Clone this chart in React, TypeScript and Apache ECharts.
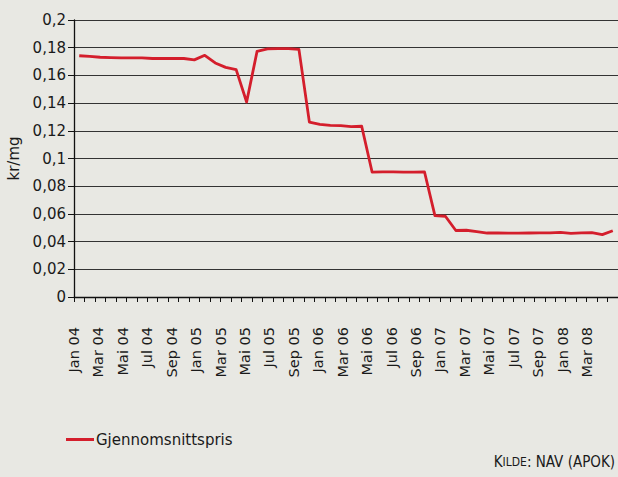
import React, { useEffect, useRef } from 'react';
import * as echarts from 'echarts';

const monthNames = ['Jan', 'Feb', 'Mar', 'Apr', 'Mai', 'Jun', 'Jul', 'Aug', 'Sep', 'Okt', 'Nov', 'Des'];
const yearSuffixes = ['04', '05', '06', '07', '08'];

const tickLabels = [
  'Jan 04', 'Mar 04', 'Mai 04', 'Jul 04', 'Sep 04',
  'Jan 05', 'Mar 05', 'Mai 05', 'Jul 05', 'Sep 05',
  'Jan 06', 'Mar 06', 'Mai 06', 'Jul 06', 'Sep 06',
  'Jan 07', 'Mar 07', 'Mai 07', 'Jul 07', 'Sep 07',
  'Jan 08', 'Mar 08',
];

// Monthly average price, kr/mg, Jan 2004 – Apr 2008
const prices = [
  0.1742, 0.1737, 0.1731, 0.1728, 0.1726, 0.1726, 0.1727, 0.1722, 0.1722, 0.1723, 0.1722, 0.1712,
  0.1745, 0.1690, 0.1658, 0.1642, 0.1408, 0.1774, 0.1791, 0.1793, 0.1793, 0.1788, 0.1263, 0.1246,
  0.1239, 0.1237, 0.1230, 0.1233, 0.0901, 0.0903, 0.0903, 0.0902, 0.0901, 0.0904, 0.0588, 0.0583,
  0.0480, 0.0482, 0.0472, 0.0462, 0.0462, 0.0461, 0.0461, 0.0462, 0.0463, 0.0463, 0.0466, 0.0459,
  0.0463, 0.0465, 0.0450, 0.0478,
];

const categories = prices.map((_, i) => `${monthNames[i % 12]} ${yearSuffixes[Math.floor(i / 12)]}`);

const seriesName = 'Gjennomsnittspris';
const yAxisName = 'kr/mg';
const yMin = 0;
const yMax = 0.2;
const yStep = 0.02;

const FONT = '"DejaVu Sans", Verdana, sans-serif';
const TEXT = '#1a1a1a';
const RED = '#d41e2c';

export default function App() {
  const ref = useRef<HTMLDivElement>(null);

  useEffect(() => {
    if (!ref.current) return;
    const chart = echarts.init(ref.current, undefined, { renderer: 'svg' });
    chart.setOption({
      animation: false,
      backgroundColor: '#e8e8e3',
      textStyle: { fontFamily: FONT, color: TEXT },
      grid: { left: 74, right: 0, top: 20, bottom: 180, containLabel: false, outerBoundsMode: 'none' },
      legend: {
        show: true,
        left: 66,
        top: 432,
        padding: 0,
        icon: 'rect',
        itemWidth: 28,
        itemHeight: 3,
        textStyle: { fontFamily: FONT, fontSize: 15, color: TEXT, padding: [0, 0, 0, -3] },
        data: [seriesName],
      },
      xAxis: [
        {
          type: 'category',
          data: categories,
          boundaryGap: true,
          position: 'bottom',
          axisLine: { show: true, onZero: false, lineStyle: { color: '#111', width: 1.3 } },
          axisTick: { show: true, interval: 0, length: 5, inside: false, lineStyle: { color: '#111', width: 1 } },
          axisLabel: { show: false },
          splitLine: { show: false },
        },
        {
          type: 'value',
          min: 0,
          max: 22.27,
          interval: 1,
          position: 'bottom',
          axisLine: { show: false, onZero: false },
          axisTick: { show: false },
          splitLine: { show: false },
          axisLabel: {
            show: true,
            rotate: 90,
            margin: 30,
            fontFamily: FONT,
            fontSize: 14.5,
            color: TEXT,
            padding: [10, 0, 0, 0],
            showMinLabel: true,
            showMaxLabel: true,
            formatter: (v: number) => (Number.isInteger(v) && tickLabels[v] ? tickLabels[v] : ''),
          },
        },
      ],
      yAxis: {
        type: 'value',
        min: yMin,
        max: yMax,
        interval: yStep,
        name: yAxisName,
        nameLocation: 'middle',
        nameGap: 49,
        nameTextStyle: { fontFamily: FONT, fontSize: 15, color: TEXT },
        axisLine: { show: true, onZero: false, lineStyle: { color: '#111', width: 1.3 } },
        axisTick: { show: true, length: 6, lineStyle: { color: '#111', width: 1 } },
        axisLabel: {
          margin: 8,
          fontFamily: FONT,
          fontSize: 15,
          color: TEXT,
          formatter: (v: number) => String(Number(v.toFixed(2))).replace('.', ','),
        },
        splitLine: { show: true, lineStyle: { color: '#333', width: 1 } },
      },
      series: [
        {
          name: seriesName,
          type: 'line',
          xAxisIndex: 0,
          yAxisIndex: 0,
          data: prices,
          symbol: 'none',
          showSymbol: false,
          lineStyle: { color: RED, width: 2.8, join: 'round' },
          itemStyle: { color: RED },
        },
      ],
      graphic: [
        {
          type: 'text',
          right: 3,
          top: 454,
          style: {
            text: '{b|K}{s|ILDE}{b|: NAV (APOK)}',
            fill: TEXT,
            rich: {
              b: { fontFamily: '"DejaVu Sans Condensed", "DejaVu Sans", sans-serif', fontSize: 15, fill: TEXT },
              s: { fontFamily: '"DejaVu Sans Condensed", "DejaVu Sans", sans-serif', fontSize: 12, fill: TEXT },
            },
          },
        },
      ],
    });
    return () => chart.dispose();
  }, []);

  return (
    <div
      ref={ref}
      style={{ position: 'fixed', left: 0, top: 0, width: 618, height: 477 }}
    />
  );
}
